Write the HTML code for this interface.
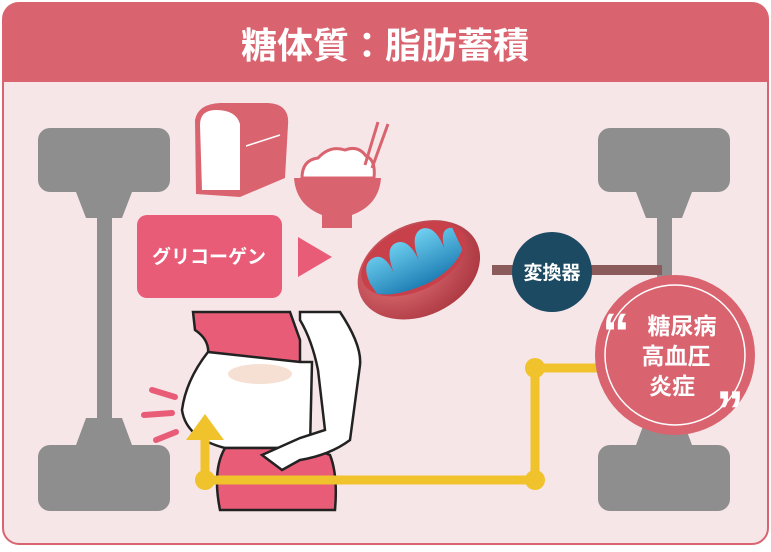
<!DOCTYPE html>
<html><head><meta charset="utf-8"><style>
body{margin:0;width:771px;height:547px;background:#fff;overflow:hidden}
</style></head><body>
<svg width="771" height="547" viewBox="0 0 771 547" xmlns="http://www.w3.org/2000/svg" font-family="Liberation Sans, Noto Sans CJK JP, sans-serif">
<defs>
<radialGradient id="mg" cx="0.4" cy="0.4" r="0.7"><stop offset="0" stop-color="#e87a80"/><stop offset="1" stop-color="#a8333c"/></radialGradient>
<linearGradient id="bl" x1="0" y1="0" x2="0" y2="1"><stop offset="0" stop-color="#6fd0f0"/><stop offset="1" stop-color="#1f7fb5"/></linearGradient>
</defs>
<rect x="3" y="3" width="765" height="541" rx="16" fill="#f7e6e8" stroke="#d9646f" stroke-width="2"/>
<path d="M3 19 Q3 3 19 3 H752 Q768 3 768 19 V82 H3 Z" fill="#d9646f"/>
<text x="385" y="58" text-anchor="middle" font-size="36" font-weight="bold" fill="#fff">糖体質：脂肪蓄積</text>
<g fill="#8e8e8e">
<rect x="38" y="128" width="132" height="64" rx="12"/>
<polygon points="76,192 132,192 122,218 86,218"/>
<rect x="97" y="218" width="15" height="200"/>
<polygon points="86,418 122,418 132,445 76,445"/>
<rect x="38" y="445" width="132" height="66" rx="12"/>
<rect x="598" y="128" width="132" height="64" rx="12"/>
<polygon points="636,192 692,192 682,218 646,218"/>
<rect x="657" y="218" width="15" height="200"/>
<polygon points="646,418 682,418 692,445 636,445"/>
<rect x="598" y="445" width="132" height="66" rx="12"/>
</g>
<!-- bread -->
<path d="M195 120 Q198 104 220 103 L268 103 Q290 104 288 125 L285 178 L240 197 L196 194 Z" fill="#d9646f"/>
<path d="M200 125 Q200 110 216 110 Q236 110 240 124 L240 190 L202 190 Z" fill="#fff"/>
<path d="M246 146 L280 135" stroke="#fff" stroke-width="1.5"/>
<!-- rice -->
<path d="M302 178 Q302 160 318 158 Q330 145 345 150 Q358 145 366 156 Q376 160 374 178 Z" fill="#fff" stroke="#d9646f" stroke-width="3"/>
<path d="M294 178 H381 Q379 205 352 215 V228 H322 V215 Q296 205 294 178 Z" fill="#d9646f"/>
<path d="M365 165 L378 122 M372 168 L388 124" stroke="#d9646f" stroke-width="3"/>
<rect x="137" y="215" width="145" height="83" rx="10" fill="#e85c77"/>
<text x="209" y="263" text-anchor="middle" font-size="19" font-weight="bold" fill="#fff">グリコーゲン</text>
<polygon points="298,237 332,257 298,277" fill="#e85c77"/>
<rect x="492" y="265" width="170" height="10" fill="#8b5a5a"/>
<circle cx="552" cy="272" r="40" fill="#1b4a62"/>
<text x="552" y="279" text-anchor="middle" font-size="19" font-weight="bold" fill="#fff">変換器</text>
<g transform="rotate(-25 418 268)">
<ellipse cx="418" cy="270" rx="64" ry="46" fill="url(#mg)"/>
<ellipse cx="418" cy="258" rx="56" ry="32" fill="#c8404a"/>
<path d="M368 262 Q368 240 382 240 Q394 240 394 262 Q396 236 408 236 Q422 236 422 262 Q424 234 438 234 Q452 236 450 262 Q454 240 466 246 L466 270 Q450 285 420 286 Q385 285 370 274 Z" fill="url(#bl)"/>
</g>
<!-- body -->
<path d="M193 312 L290 312 L300 340 L300 362 L208 355 Q210 340 195 330 Z" fill="#e85c77" stroke="#222" stroke-width="2.5"/>
<path d="M208 352 Q186 380 182 410 Q186 438 225 448 L310 448 L312 362 L300 362 Z" fill="#fff" stroke="#222" stroke-width="2.5"/>
<path d="M225 448 Q212 470 220 510 L335 510 Q338 475 330 455 L312 448 Z" fill="#e85c77" stroke="#222" stroke-width="2.5"/>
<path d="M300 312 L340 312 Q362 345 360 365 L350 440 Q330 455 300 460 L282 470 L262 455 L300 438 L325 430 L318 370 Q312 340 300 320 Z" fill="#fff" stroke="#222" stroke-width="2.5"/>
<ellipse cx="260" cy="374" rx="32" ry="10" fill="#f6e0d4"/>
<g stroke="#e85c77" stroke-width="6" stroke-linecap="round">
<line x1="152" y1="390" x2="175" y2="397"/><line x1="144" y1="415" x2="172" y2="413"/><line x1="156" y1="440" x2="176" y2="432"/>
</g>
<!-- yellow path -->
<g stroke="#f0c22c" stroke-width="9" fill="none">
<path d="M205 480 H535 V368 H600"/>
<path d="M205 480 V428"/>
</g>
<polygon points="205,414 186,440 224,440" fill="#f0c22c"/>
<g fill="#f0c22c"><circle cx="205" cy="480" r="10"/><circle cx="535" cy="480" r="10"/><circle cx="535" cy="368" r="10"/></g>
<circle cx="675" cy="355" r="80" fill="#d9646f"/>
<circle cx="675" cy="355" r="70" fill="none" stroke="#fff" stroke-width="1.5"/>
<text x="682" y="334" text-anchor="middle" font-size="23" font-weight="bold" fill="#fff">糖尿病</text>
<text x="676" y="364" text-anchor="middle" font-size="23" font-weight="bold" fill="#fff">高血圧</text>
<text x="672" y="394" text-anchor="middle" font-size="23" font-weight="bold" fill="#fff">炎症</text>
<text x="602" y="352" font-size="56" font-weight="bold" fill="#fff">“</text>
<text x="716" y="430" font-size="56" font-weight="bold" fill="#fff">”</text>
</svg>
</body></html>
